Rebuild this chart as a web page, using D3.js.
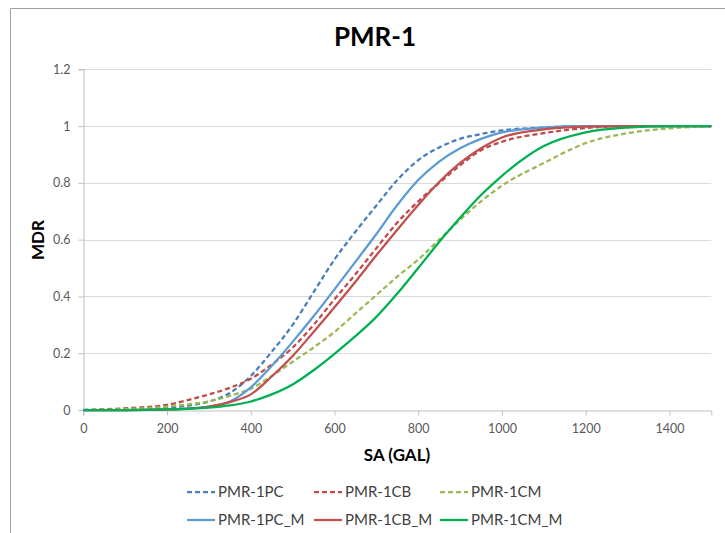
<!DOCTYPE html>
<html>
<head>
<meta charset="utf-8">
<script src="https://cdn.jsdelivr.net/npm/d3@7/dist/d3.min.js"></script>
<style>
  html, body { margin: 0; padding: 0; background: #fff; }
  svg { display: block; }
</style>
</head>
<body>
<svg id="chart" width="725" height="533"></svg>
<script>
// ---- data ----
const sa = [0, 100, 200, 250, 300, 350, 400, 450, 500, 550, 600, 650, 700, 750, 800, 850, 900, 950, 1000, 1100, 1200, 1300, 1400, 1500];
const pmr1PC   = [0, 0.002, 0.008, 0.015, 0.03, 0.06, 0.12, 0.205, 0.30, 0.415, 0.53, 0.628, 0.72, 0.81, 0.88, 0.925, 0.955, 0.972, 0.985, 0.995, 1, 1, 1, 1];
const pmr1CB   = [0, 0.006, 0.018, 0.035, 0.055, 0.078, 0.11, 0.16, 0.22, 0.30, 0.39, 0.478, 0.57, 0.66, 0.735, 0.80, 0.862, 0.915, 0.945, 0.975, 0.993, 1, 1, 1];
const pmr1CM   = [0, 0.003, 0.012, 0.02, 0.03, 0.05, 0.075, 0.12, 0.17, 0.22, 0.275, 0.34, 0.405, 0.47, 0.53, 0.60, 0.67, 0.735, 0.79, 0.87, 0.94, 0.975, 0.992, 1];
const pmr1PC_M = [0, 0, 0.002, 0.005, 0.012, 0.03, 0.08, 0.155, 0.24, 0.33, 0.425, 0.522, 0.62, 0.722, 0.81, 0.875, 0.922, 0.955, 0.978, 0.995, 1, 1, 1, 1];
const pmr1CB_M = [0, 0, 0.002, 0.005, 0.012, 0.028, 0.055, 0.118, 0.19, 0.275, 0.362, 0.452, 0.545, 0.635, 0.722, 0.803, 0.87, 0.922, 0.96, 0.988, 0.998, 1, 1, 1];
const pmr1CM_M = [0, 0, 0.002, 0.004, 0.008, 0.016, 0.03, 0.055, 0.09, 0.14, 0.198, 0.26, 0.328, 0.41, 0.5, 0.592, 0.677, 0.757, 0.825, 0.93, 0.978, 0.995, 1, 1];

const seriesNames = ["PMR-1PC", "PMR-1CB", "PMR-1CM", "PMR-1PC_M", "PMR-1CB_M", "PMR-1CM_M"];
const seriesValues = [pmr1PC, pmr1CB, pmr1CM, pmr1PC_M, pmr1CB_M, pmr1CM_M];
const seriesColors = ["#4A7EBB", "#BE4B48", "#98B954", "#5B9BD5", "#C0504D", "#00B050"];
const seriesDashed = [true, true, true, false, false, false];

const xTicks = [0, 200, 400, 600, 800, 1000, 1200, 1400];
const yTicks = [0, 0.2, 0.4, 0.6, 0.8, 1, 1.2];

// ---- layout ----
const svg = d3.select("#chart");
const font = "Lato, 'Open Sans', sans-serif";
const plot = { left: 83.3, right: 711.3, top: 69.3, bottom: 410 };

const x = d3.scaleLinear().domain([0, 1500]).range([plot.left, plot.right]);
const y = d3.scaleLinear().domain([0, 1.2]).range([plot.bottom, plot.top]);

// chart border (left & top visible)
svg.append("path")
  .attr("d", `M10.5,533 V8.5 H725`)
  .attr("fill", "none").attr("stroke", "#a0a0a0").attr("stroke-width", 1);

// title
svg.append("text")
  .attr("x", 375).attr("y", 46)
  .attr("text-anchor", "middle")
  .attr("font-family", font).attr("font-weight", "bold").attr("font-size", 26)
  .attr("fill", "#000").text("PMR-1");

// gridlines
svg.append("g").selectAll("line").data(yTicks.filter(d => d > 0)).join("line")
  .attr("x1", plot.left).attr("x2", plot.right)
  .attr("y1", d => Math.round(y(d)) + 0.5).attr("y2", d => Math.round(y(d)) + 0.5)
  .attr("stroke", "#d9d9d9").attr("stroke-width", 1);

// y axis
const yAxis = d3.axisLeft(y).tickValues(yTicks).tickSize(5).tickPadding(8)
  .tickFormat(d => d3.format("~g")(d));
const gy = svg.append("g").attr("transform", `translate(${Math.round(plot.left) + 0.5},0)`).call(yAxis);
gy.select(".domain").attr("stroke", "#bfbfbf");
gy.selectAll(".tick line").attr("stroke", "#bfbfbf");
gy.selectAll(".tick text").attr("font-family", font).attr("font-size", 12.5).attr("fill", "#595959");

// x axis
const xAxis = d3.axisBottom(x).tickValues(xTicks).tickSize(5).tickPadding(9).tickFormat(d3.format("d"));
const gx = svg.append("g").attr("transform", `translate(0,${Math.round(plot.bottom) + 0.5})`).call(xAxis);
gx.select(".domain").attr("stroke", "#bfbfbf");
gx.selectAll(".tick line").attr("stroke", "#bfbfbf");
gx.selectAll(".tick text").attr("font-family", font).attr("font-size", 12.5).attr("fill", "#595959");

// axis titles
svg.append("text")
  .attr("x", 397).attr("y", 461)
  .attr("text-anchor", "middle")
  .attr("font-family", font).attr("font-weight", "bold").attr("font-size", 17)
  .attr("fill", "#000").text("SA (GAL)");
svg.append("text")
  .attr("transform", "translate(44,240) rotate(-90)")
  .attr("text-anchor", "middle")
  .attr("font-family", font).attr("font-weight", "bold").attr("font-size", 17)
  .attr("fill", "#000").text("MDR");

// lines
const line = d3.line()
  .x((d, i) => x(sa[i]))
  .y(d => y(d))
  .curve(d3.curveMonotoneX);

const gLines = svg.append("g");
seriesValues.forEach((vals, k) => {
  gLines.append("path")
    .datum(vals)
    .attr("d", line)
    .attr("fill", "none")
    .attr("stroke", seriesColors[k])
    .attr("stroke-width", 2.25)
    .attr("stroke-dasharray", seriesDashed[k] ? "5,3" : null)
    .attr("stroke-linejoin", "round");
});

// legend
const legendCols = [187, 314, 440];
const legendRows = [492, 520];
const legend = svg.append("g");
seriesNames.forEach((name, k) => {
  const cx = legendCols[k % 3];
  const cy = legendRows[Math.floor(k / 3)];
  legend.append("line")
    .attr("x1", cx).attr("x2", cx + 28)
    .attr("y1", cy).attr("y2", cy)
    .attr("stroke", seriesColors[k]).attr("stroke-width", 2.25)
    .attr("stroke-dasharray", seriesDashed[k] ? "5,3" : null);
  legend.append("text")
    .attr("x", cx + 31).attr("y", cy + 5)
    .attr("font-family", font).attr("font-size", 15)
    .attr("fill", "#404040").text(name);
});
</script>
</body>
</html>
